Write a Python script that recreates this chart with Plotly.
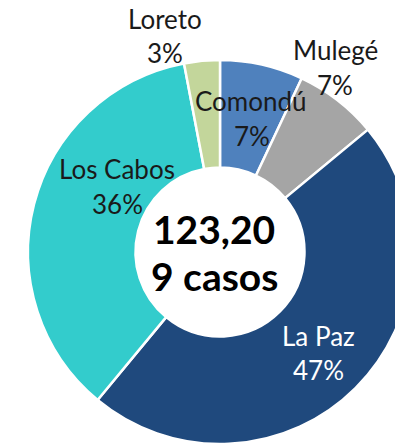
import plotly.graph_objects as go

# Casos por municipio (porcentaje del total), en orden horario desde las 12
municipios = ["Comondú", "Mulegé", "La Paz", "Los Cabos", "Loreto"]
porcentajes = [7, 7, 47, 36, 3]
colores = ["#4F81BD", "#A5A5A5", "#1F497D", "#33CCCC", "#C3D69B"]
color_texto = ["#1a1a1a", "#1a1a1a", "#ffffff", "#1a1a1a", "#1a1a1a"]
total_texto = ["123,20", "9 casos"]

# Lienzo y geometría de la dona (px)
W, H = 440, 446
cx, cy, R = 220, 252, 192

# Posición de cada etiqueta (px): nombre y porcentaje
pos_nombre = [(251, 101), (335, 50), (318, 336), (117, 169), (165, 19)]
pos_pct = [(252, 136), (335, 85), (318, 370), (117, 204), (165, 53)]
pos_total = [(214, 229), (214, 276)]


def px(x, y):
    return x / W, 1 - y / H


fig = go.Figure(
    go.Pie(
        labels=municipios,
        values=porcentajes,
        sort=False,
        direction="clockwise",
        hole=0.44,
        marker=dict(colors=colores, line=dict(color="white", width=2.5)),
        textinfo="none",
        hoverinfo="label+percent",
        showlegend=False,
        domain=dict(
            x=[(cx - R) / W, (cx + R) / W],
            y=[(H - (cy + R)) / H, (H - (cy - R)) / H],
        ),
    )
)

anotaciones = []
for nombre, pct, c, pn, pp in zip(municipios, porcentajes, color_texto, pos_nombre, pos_pct):
    for texto, p in ((nombre, pn), (f"{pct}%", pp)):
        x, y = px(*p)
        anotaciones.append(dict(
            x=x, y=y, xref="paper", yref="paper", text=texto, showarrow=False,
            xanchor="center", yanchor="middle",
            font=dict(family="Lato", size=26, color=c),
        ))
for texto, p in zip(total_texto, pos_total):
    x, y = px(*p)
    anotaciones.append(dict(
        x=x, y=y, xref="paper", yref="paper", text=f"<b>{texto}</b>", showarrow=False,
        xanchor="center", yanchor="middle",
        font=dict(family="Lato", size=39, color="#000000"),
    ))

fig.update_layout(
    width=W, height=H,
    margin=dict(l=0, r=0, t=0, b=0),
    paper_bgcolor="white",
    annotations=anotaciones,
)

fig.write_html(
    "out.html",
    post_script="document.documentElement.style.overflow='hidden';document.body.style.overflow='hidden';",
)
